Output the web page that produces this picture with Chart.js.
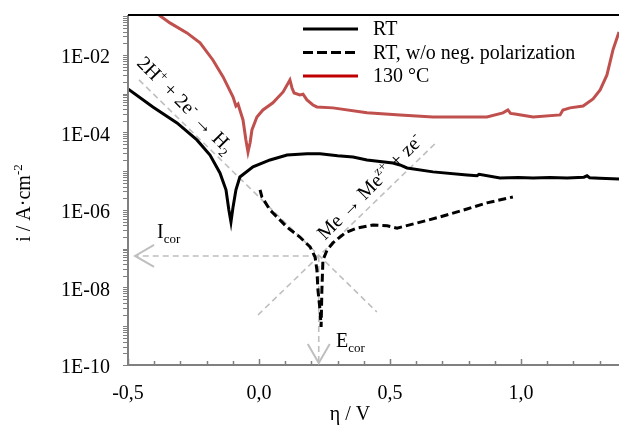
<!DOCTYPE html>
<html>
<head>
<meta charset="utf-8">
<script src="https://cdn.jsdelivr.net/npm/chart.js@4/dist/chart.umd.min.js"></script>
<style>
  html, body { margin: 0; padding: 0; background: #fff; overflow: hidden; }
  canvas { display: block; }
</style>
</head>
<body>
<canvas id="c" width="619" height="425"></canvas>
<script>
// ---- data ----
const seriesLabels = ['RT', 'RT, w/o neg. polarization', '130 °C'];

// RT (solid black): potential in V, current density in A/cm²
const rtE = [-0.500, -0.405, -0.313, -0.237, -0.187, -0.149, -0.126, -0.115, -0.107, -0.099, -0.088, -0.073, -0.023, 0.042, 0.107, 0.183, 0.233, 0.300, 0.359, 0.412, 0.511, 0.538, 0.565, 0.664, 0.794, 0.832, 0.840, 0.920, 0.990, 1.046, 1.110, 1.176, 1.240, 1.252, 1.262, 1.300, 1.374];
const rtI = [1.33e-3, 4.55e-4, 1.76e-4, 6.4e-5, 2.6e-5, 9.0e-6, 3.3e-6, 1.0e-6, 4.9e-7, 1.2e-6, 3.3e-6, 7.1e-6, 1.29e-5, 1.95e-5, 2.6e-5, 2.8e-5, 2.8e-5, 2.5e-5, 2.33e-5, 1.95e-5, 1.63e-5, 1.45e-5, 1.21e-5, 9.6e-6, 8.0e-6, 7.6e-6, 8.3e-6, 6.7e-6, 6.9e-6, 6.7e-6, 6.9e-6, 6.7e-6, 7.0e-6, 7.6e-6, 6.8e-6, 6.6e-6, 6.3e-6];

// RT, w/o negative polarization (dashed black)
const rtNoNegE = [0.004, 0.011, 0.042, 0.107, 0.156, 0.195, 0.214, 0.221, 0.225, 0.233, 0.237, 0.240, 0.244, 0.260, 0.282, 0.328, 0.374, 0.435, 0.489, 0.527, 0.603, 0.691, 0.794, 0.870, 0.969];
const rtNoNegI = [3.3e-6, 2.16e-6, 1.0e-6, 3.6e-7, 2.0e-7, 1.11e-7, 6.1e-8, 2.83e-8, 8.6e-9, 2.6e-9, 9.6e-10, 8.6e-9, 5.1e-8, 9.3e-8, 1.41e-7, 2.55e-7, 3.4e-7, 4.1e-7, 3.9e-7, 3.4e-7, 4.6e-7, 6.6e-7, 1.06e-6, 1.52e-6, 2.16e-6];

// 130 °C (red)
const hotE = [-0.382, -0.340, -0.275, -0.225, -0.176, -0.137, -0.099, -0.088, -0.080, -0.073, -0.061, -0.050, -0.042, -0.034, -0.027, -0.008, 0.015, 0.053, 0.092, 0.118, 0.126, 0.134, 0.156, 0.168, 0.183, 0.206, 0.221, 0.282, 0.412, 0.538, 0.664, 0.794, 0.870, 0.931, 0.950, 0.960, 0.977, 1.046, 1.149, 1.160, 1.187, 1.237, 1.275, 1.302, 1.328, 1.351, 1.374];
const hotI = [0.107, 0.067, 0.037, 0.0204, 7.4e-3, 2.7e-3, 8.2e-4, 4.8e-4, 5.4e-4, 3.8e-4, 2.1e-4, 6.4e-5, 3.1e-5, 5.4e-5, 1.16e-4, 2.5e-4, 3.8e-4, 5.8e-4, 1.11e-3, 2.26e-3, 1.4e-3, 1.04e-3, 9.3e-4, 9.7e-4, 6.9e-4, 5.1e-4, 4.55e-4, 4.3e-4, 3.2e-4, 2.83e-4, 2.5e-4, 2.5e-4, 2.5e-4, 3.2e-4, 3.8e-4, 3.1e-4, 3.0e-4, 2.5e-4, 2.83e-4, 3.8e-4, 4.3e-4, 4.8e-4, 7.3e-4, 1.25e-3, 3.05e-3, 1.35e-2, 3.9e-2];

// Tafel construction lines (grey dashed): [E1, i1, E2, i2]
const cathodicTafel = [-0.458, 2.26e-3, 0.450, 2.33e-9];
const anodicTafel   = [-0.004, 1.95e-9, 0.679, 5.7e-5];
const icorLine      = [0.228, 6.5e-8, -0.473, 6.5e-8];
const ecorLine      = [0.228, 6.5e-8, 0.228, 1.12e-10];

// axis ticks
const xTickValues = [-0.5, -0.4, -0.3, -0.2, -0.1, 0.0, 0.1, 0.2, 0.3, 0.4, 0.5, 0.6, 0.7, 0.8, 0.9, 1.0, 1.1, 1.2, 1.3];
const xTickLabels = ['-0,5', '', '', '', '', '0,0', '', '', '', '', '0,5', '', '', '', '', '1,0', '', '', ''];
const yTickValues = [1e-10, 1e-8, 1e-6, 1e-4, 1e-2];
const yTickLabels = ['1E-10', '1E-08', '1E-06', '1E-04', '1E-02'];

// ---- build ----
const pts = (xs, ys) => xs.map((x, k) => ({ x: x, y: ys[k] }));
const seg = a => [{ x: a[0], y: a[1] }, { x: a[2], y: a[3] }];

const FONT = '"Liberation Serif", "Times New Roman", serif';
const GREY = '#bfbfbf';

function guide(a) {
  return { data: seg(a), borderColor: GREY, borderWidth: 1.6, borderDash: [6, 4],
           pointRadius: 0, showLine: true, fill: false, isGuide: true, order: 10 };
}

function drawRich(ctx, parts, x, y, angle, align) {
  const big = 20, small = 13;
  ctx.save();
  ctx.translate(x, y);
  ctx.rotate(angle);
  ctx.textBaseline = 'alphabetic';
  ctx.textAlign = 'left';
  let w = 0;
  parts.forEach(p => { ctx.font = (p[1] === 'n' ? big : small) + 'px ' + FONT; w += ctx.measureText(p[0]).width; });
  let cx = align === 'center' ? -w / 2 : 0;
  const base = align === 'center' ? 6 : 0;
  parts.forEach(p => {
    const sz = p[1] === 'n' ? big : small;
    ctx.font = sz + 'px ' + FONT;
    const dy = p[1] === 'sup' ? -8 : (p[1] === 'sub' ? 5 : 0);
    ctx.fillStyle = '#000';
    ctx.fillText(p[0], cx, base + dy);
    cx += ctx.measureText(p[0]).width;
  });
  ctx.restore();
}

function arrowHead(ctx, tx, ty, dirx, diry) {
  const L = 19, W = 11;
  const bx = tx - dirx * L, by = ty - diry * L;
  const px = -diry, py = dirx;
  ctx.save();
  ctx.strokeStyle = GREY;
  ctx.lineWidth = 2;
  ctx.beginPath();
  ctx.moveTo(bx + px * W, by + py * W);
  ctx.lineTo(tx, ty);
  ctx.lineTo(bx - px * W, by - py * W);
  ctx.stroke();
  ctx.restore();
}

const decor = {
  id: 'decor',
  afterDatasetsDraw(chart) {
    const ctx = chart.ctx, xs = chart.scales.x, ys = chart.scales.y, ca = chart.chartArea;
    ctx.save();
    ctx.strokeStyle = '#808080';
    ctx.lineWidth = 1.5;
    xTickValues.forEach((v, k) => {
      const px = Math.round(xs.getPixelForValue(v)) + 0.5;
      const len = xTickLabels[k] ? 6 : 4;
      ctx.beginPath(); ctx.moveTo(px, ca.bottom); ctx.lineTo(px, ca.bottom - len); ctx.stroke();
    });
    ctx.lineWidth = 1;
    for (let d = -10; d <= -1; d++) {
      for (let m = 1; m <= 9; m++) {
        const v = m * Math.pow(10, d);
        if (v < ys.min || v > ys.max) continue;
        const py = Math.round(ys.getPixelForValue(v)) + 0.5;
        ctx.beginPath(); ctx.moveTo(ca.left - 5, py); ctx.lineTo(ca.left, py); ctx.stroke();
      }
    }
    ctx.strokeStyle = '#808080';
    ctx.lineWidth = 2;
    ctx.beginPath(); ctx.moveTo(ca.left, ca.top); ctx.lineTo(ca.left, ca.bottom); ctx.lineTo(ca.right, ca.bottom); ctx.stroke();
    ctx.strokeStyle = '#000';
    ctx.beginPath(); ctx.moveTo(ca.left, ca.top); ctx.lineTo(ca.right, ca.top); ctx.stroke();

    arrowHead(ctx, xs.getPixelForValue(icorLine[2]), ys.getPixelForValue(icorLine[3]), -1, 0);
    arrowHead(ctx, xs.getPixelForValue(ecorLine[2]), ys.getPixelForValue(ecorLine[3]), 0, 1);

    drawRich(ctx, [['2H', 'n'], ['+', 'sup'], [' + 2e', 'n'], ['-', 'sup'], [' \u2192 H', 'n'], ['2', 'sub']],
      xs.getPixelForValue(-0.282), ys.getPixelForValue(5.1e-4), Math.PI / 4, 'center');
    drawRich(ctx, [['Me \u2192 Me', 'n'], ['z+', 'sup'], [' + ze', 'n'], ['-', 'sup']],
      xs.getPixelForValue(0.424), ys.getPixelForValue(3.9e-6), -Math.PI / 4, 'center');
    drawRich(ctx, [['I', 'n'], ['cor', 'sub']], xs.getPixelForValue(-0.389), ys.getPixelForValue(1.89e-7), 0, 'left');
    drawRich(ctx, [['E', 'n'], ['cor', 'sub']], xs.getPixelForValue(0.294), ys.getPixelForValue(2.92e-10), 0, 'left');

    drawRich(ctx, [['i / A\u00b7cm', 'n'], ['-2', 'sup']], 24, 203, -Math.PI / 2, 'center');
    ctx.font = '20px ' + FONT;
    ctx.fillStyle = '#000';
    ctx.textAlign = 'center';
    ctx.textBaseline = 'alphabetic';
    ctx.fillText('\u03b7 / V', 350, 420);

    const items = [
      { label: seriesLabels[0], color: '#000', dash: [] },
      { label: seriesLabels[1], color: '#000', dash: [10, 4] },
      { label: seriesLabels[2], color: '#c00000', dash: [] }
    ];
    items.forEach((it, k) => {
      const y = 29 + k * 23.5;
      ctx.save();
      ctx.strokeStyle = it.color;
      ctx.lineWidth = 3;
      ctx.setLineDash(it.dash);
      ctx.beginPath(); ctx.moveTo(303, y); ctx.lineTo(358, y); ctx.stroke();
      ctx.restore();
      ctx.fillStyle = '#000';
      ctx.font = '20px ' + FONT;
      ctx.textAlign = 'left';
      ctx.textBaseline = 'middle';
      ctx.fillText(it.label, 373, y + 1);
    });
    ctx.restore();
  }
};

new Chart(document.getElementById('c'), {
  type: 'scatter',
  data: {
    datasets: [
      guide(cathodicTafel), guide(anodicTafel), guide(icorLine), guide(ecorLine),
      { label: seriesLabels[0], data: pts(rtE, rtI), borderColor: '#000', borderWidth: 3, showLine: true, pointRadius: 0, order: 1 },
      { label: seriesLabels[1], data: pts(rtNoNegE, rtNoNegI), borderColor: '#000', borderWidth: 3, borderDash: [8, 4], showLine: true, pointRadius: 0, order: 1 },
      { label: seriesLabels[2], data: pts(hotE, hotI), borderColor: '#c0504d', borderWidth: 3, showLine: true, pointRadius: 0, order: 1 }
    ]
  },
  options: {
    responsive: false,
    animation: false,
    devicePixelRatio: 1,
    layout: { padding: { top: 15, right: 0, left: 0, bottom: 0 } },
    plugins: { legend: { display: false }, tooltip: { enabled: false } },
    scales: {
      x: {
        type: 'linear', min: -0.5, max: 1.374,
        afterBuildTicks: s => { s.ticks = xTickValues.map(v => ({ value: v })); },
        afterFit: s => { s.height = 60; s.paddingLeft = 0; s.paddingRight = 0; s.paddingTop = 0; s.paddingBottom = 0; },
        grid: { display: false, drawTicks: false },
        border: { display: false },
        ticks: {
          autoSkip: false, maxRotation: 0, padding: 17, color: '#000',
          font: { family: FONT, size: 20 },
          callback: (v, k) => xTickLabels[k]
        }
      },
      y: {
        type: 'logarithmic', min: 1e-10, max: 0.107,
        afterBuildTicks: s => { s.ticks = yTickValues.map(v => ({ value: v })); },
        afterFit: s => { s.width = 128; s.paddingTop = 0; s.paddingBottom = 0; s.paddingLeft = 0; s.paddingRight = 0; },
        grid: { display: false, drawTicks: false },
        border: { display: false },
        ticks: {
          autoSkip: false, padding: 18, labelOffset: 3, color: '#000',
          font: { family: FONT, size: 20 },
          callback: (v, k) => yTickLabels[k]
        }
      }
    }
  },
  plugins: [decor]
});
</script>
</body>
</html>
